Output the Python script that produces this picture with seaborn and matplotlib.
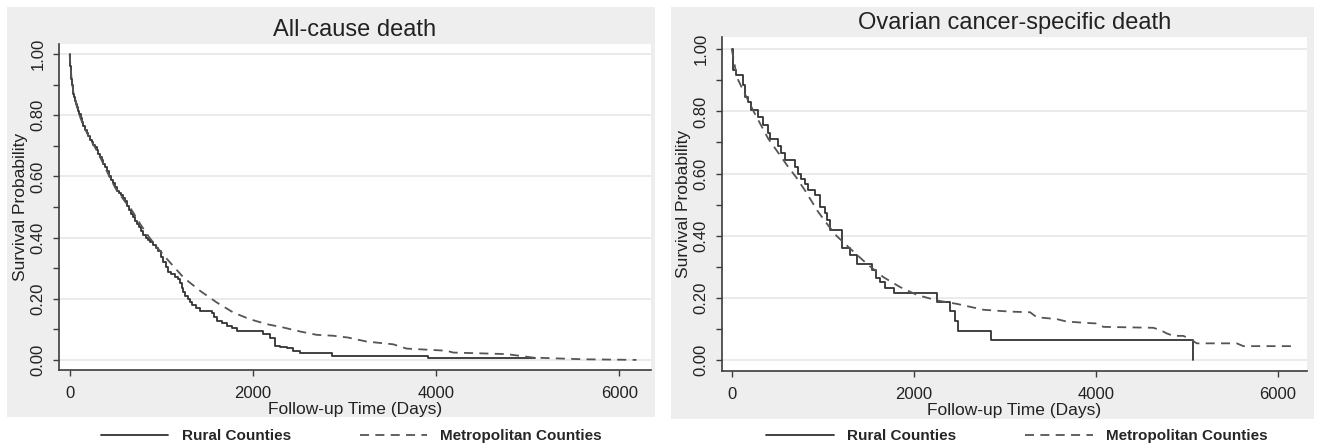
import numpy as np
import pandas as pd
import matplotlib
matplotlib.use("Agg")
import matplotlib.pyplot as plt
from matplotlib.patches import Rectangle
from matplotlib.ticker import MultipleLocator, FormatStrFormatter
import seaborn as sns

# Kaplan-Meier estimates (time in days, survival prob.)
allcause_rural_t = [0, 4, 8, 12, 16, 20, 28, 35, 41, 50, 60, 70, 78, 90, 105, 120, 135, 150, 169,
                    185, 200, 220, 240, 260, 278, 295, 312, 330, 350, 368, 387, 408, 430, 450,
                    472, 494, 514, 537, 560, 580, 600, 625, 650, 672, 696, 718, 740, 760, 782,
                    805, 830, 855, 880, 910, 940, 969, 995, 1020, 1050, 1078, 1110, 1150, 1187,
                    1205, 1225, 1243, 1260, 1290, 1315, 1340, 1380, 1424, 1551, 1580, 1606, 1660,
                    1715, 1770, 1824, 2114, 2187, 2242, 2300, 2369, 2440, 2515, 2860, 3914, 5078]
allcause_rural_s = [1.0, 0.98, 0.96, 0.945, 0.93, 0.92, 0.9, 0.885, 0.871, 0.86, 0.848, 0.837,
                    0.827, 0.815, 0.803, 0.79, 0.778, 0.765, 0.751, 0.742, 0.732, 0.72, 0.712,
                    0.704, 0.696, 0.685, 0.675, 0.665, 0.653, 0.642, 0.63, 0.617, 0.603, 0.59,
                    0.578, 0.566, 0.554, 0.547, 0.54, 0.53, 0.52, 0.505, 0.49, 0.478, 0.467,
                    0.456, 0.445, 0.435, 0.421, 0.407, 0.4, 0.392, 0.385, 0.376, 0.366, 0.357,
                    0.338, 0.32, 0.303, 0.286, 0.28, 0.272, 0.265, 0.25, 0.235, 0.222, 0.21,
                    0.2, 0.19, 0.18, 0.17, 0.16, 0.155, 0.14, 0.128, 0.12, 0.111, 0.103, 0.095,
                    0.084, 0.073, 0.046, 0.043, 0.040, 0.03, 0.022, 0.013, 0.0055, 0.0055]
allcause_metro_t = [0, 20, 41, 78, 120, 169, 220, 278, 330, 387, 450, 514, 600, 678, 770, 860,
                    949, 1078, 1242, 1424, 1606, 1787, 1969, 2151, 2333, 2515, 2697, 2878, 3042,
                    3242, 3532, 3678, 4115, 4187, 4769, 5060, 5605, 6188]
allcause_metro_s = [1.0, 0.925, 0.875, 0.83, 0.79, 0.755, 0.725, 0.695, 0.665, 0.63, 0.59, 0.555,
                    0.52, 0.49, 0.445, 0.405, 0.37, 0.325, 0.27, 0.226, 0.188, 0.155, 0.133,
                    0.117, 0.106, 0.093, 0.082, 0.079, 0.073, 0.06, 0.051, 0.037, 0.03, 0.024,
                    0.019, 0.0075, 0.002, 0.0]

ovarian_rural_t = [0, 14, 51, 124, 143, 180, 215, 289, 344, 399, 417, 509, 545, 582, 692, 730,
                   765, 800, 839, 912, 967, 1022, 1050, 1077, 1212, 1300, 1374, 1545, 1590, 1630,
                   1685, 1787, 2256, 2400, 2454, 2491, 2847, 5067]
ovarian_rural_s = [1.0, 0.932, 0.916, 0.884, 0.847, 0.83, 0.804, 0.782, 0.756, 0.729, 0.712,
                   0.69, 0.666, 0.643, 0.62, 0.60, 0.584, 0.565, 0.547, 0.531, 0.493, 0.472,
                   0.45, 0.42, 0.36, 0.337, 0.31, 0.29, 0.265, 0.251, 0.231, 0.216, 0.188,
                   0.159, 0.127, 0.094, 0.064, 0.0]
ovarian_metro_t = [0, 56, 124, 240, 399, 472, 619, 703, 802, 949, 1058, 1150, 1300, 1484, 1666,
                   1850, 2033, 2253, 2473, 2766, 3059, 3279, 3352, 3572, 3682, 3938, 4012, 4085,
                   4634, 4708, 4781, 4854, 4964, 5037, 5111, 5551, 5623, 6155]
ovarian_metro_s = [1.0, 0.91, 0.868, 0.80, 0.713, 0.683, 0.622, 0.59, 0.547, 0.477, 0.434, 0.40,
                   0.359, 0.31, 0.267, 0.235, 0.21, 0.192, 0.181, 0.162, 0.156, 0.154, 0.138,
                   0.132, 0.124, 0.119, 0.118, 0.107, 0.104, 0.097, 0.086, 0.078, 0.078, 0.068,
                   0.054, 0.054, 0.045, 0.045]

titles = ["All-cause death", "Ovarian cancer-specific death"]
series_labels = ["Rural Counties", "Metropolitan Counties"]
x_ticks = [0, 2000, 4000, 6000]

sns.set_theme(style="white")
plt.rcParams['font.family'] = ['Liberation Sans', 'DejaVu Sans']

fig = plt.figure(figsize=(13.21, 4.47), dpi=100)

# stata-like grey graph regions
fig.add_artist(Rectangle((0.0053, 0.0671), 0.4905, 0.917, transform=fig.transFigure,
                         facecolor='#eeeeee', edgecolor='none', zorder=-5))
fig.add_artist(Rectangle((0.508, 0.0626), 0.4868, 0.9217, transform=fig.transFigure,
                         facecolor='#eeeeee', edgecolor='none', zorder=-5))

ax1 = fig.add_axes([0.0447, 0.1723, 0.448, 0.729])
ax2 = fig.add_axes([0.5466, 0.170, 0.4428, 0.747])

panels = [
    (ax1, titles[0], allcause_rural_t, allcause_rural_s, allcause_metro_t, allcause_metro_s,
     (-115, 6345), (-0.033, 1.033), 0.266),
    (ax2, titles[1], ovarian_rural_t, ovarian_rural_s, ovarian_metro_t, ovarian_metro_s,
     (-107, 6323), (-0.035, 1.039), 0.770),
]

for ax, title, rt, rs, mt, ms, xlim, ylim, leg_x in panels:
    ax.set_facecolor('white')
    sns.lineplot(x=rt, y=rs, ax=ax, color='#333333', lw=1.3, estimator=None,
                 drawstyle='steps-post', label=series_labels[0])
    sns.lineplot(x=mt, y=ms, ax=ax, color='#555555', lw=1.3, estimator=None,
                 linestyle=(0, (5, 3.5)), label=series_labels[1])

    ax.set_xlim(*xlim)
    ax.set_ylim(*ylim)
    ax.set_xticks(x_ticks)
    ax.set_yticks(np.arange(0, 1.01, 0.2))
    ax.yaxis.set_major_formatter(FormatStrFormatter('%.2f'))
    ax.yaxis.set_minor_locator(MultipleLocator(0.1))
    ax.grid(axis='y', color='#ebebeb', lw=1.4)
    ax.grid(axis='x', visible=False)
    ax.set_axisbelow(True)

    sns.despine(ax=ax)
    for s in ['left', 'bottom']:
        ax.spines[s].set_color('#3c3c3c')
        ax.spines[s].set_linewidth(1.2)

    ax.tick_params(axis='both', which='both', length=4.5, width=1, color='#3c3c3c',
                   labelsize=12, labelcolor='#222222', pad=5)
    ax.tick_params(axis='x', bottom=True, pad=7)
    ax.tick_params(axis='y', which='both', left=True)
    for lbl in ax.get_yticklabels():
        lbl.set_rotation(90)
        lbl.set_va('center')

    ax.set_title(title, fontsize=17, color='#222222', pad=6)
    ax.set_xlabel("Follow-up Time (Days)", fontsize=12.5, color='#222222', labelpad=1)
    ax.set_ylabel("Survival Probability", fontsize=12.5, color='#222222', labelpad=2)

    handles, labels = ax.get_legend_handles_labels()
    ax.legend(handles, labels, loc='center', bbox_to_anchor=(leg_x, 0.024),
              bbox_transform=fig.transFigure, ncol=2, frameon=False,
              handlelength=4.4, handletextpad=0.9, columnspacing=4.5,
              prop={'weight': 'bold', 'size': 11})

fig.savefig("out.png", dpi=100, facecolor='white')
